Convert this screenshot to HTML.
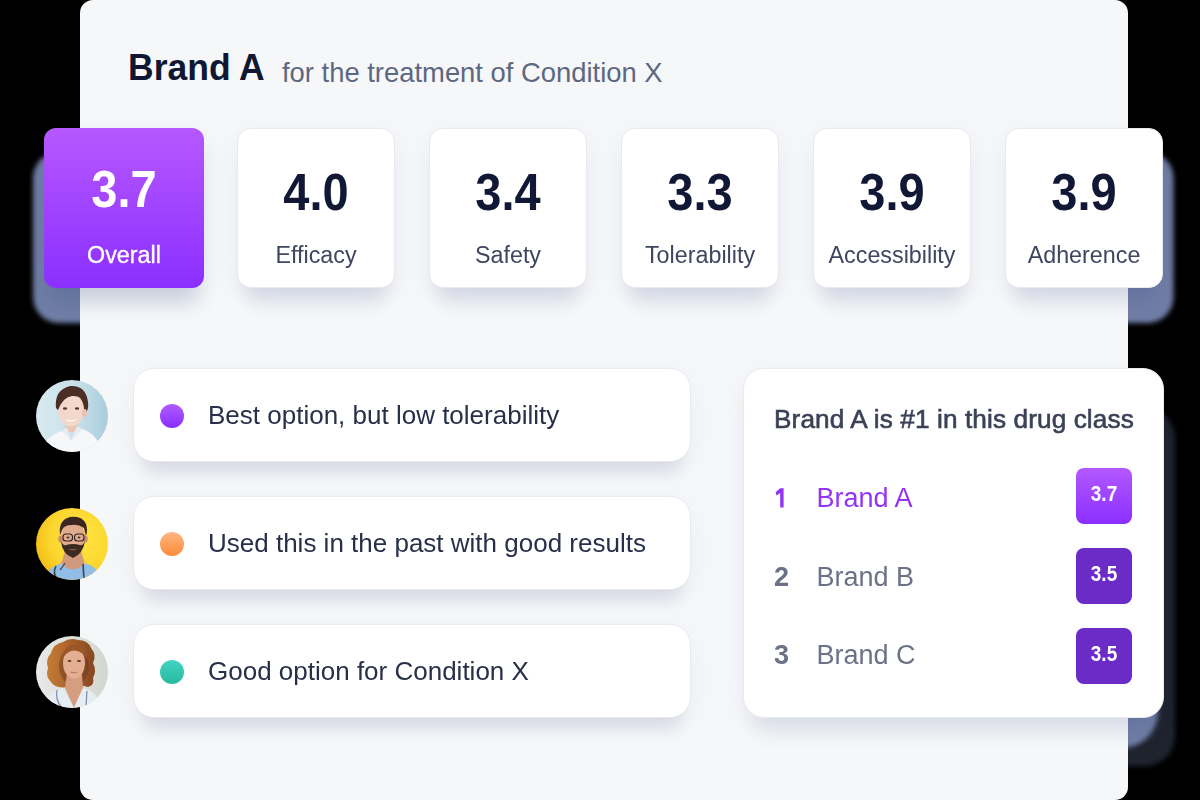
<!DOCTYPE html>
<html><head><meta charset="utf-8">
<style>
*{box-sizing:border-box;margin:0;padding:0}
html,body{width:1200px;height:800px;overflow:hidden;background:#000}
body{position:relative;font-family:"Liberation Sans",sans-serif}
.abs{position:absolute}
#main{position:absolute;left:80px;top:0;width:1048px;height:800px;background:#f6f7f9;border-radius:13px}
.t{position:absolute;white-space:nowrap;line-height:1}
.card{position:absolute;top:128px;width:158px;height:160px;background:#fff;border-radius:14px;border:1px solid #e7e9ef;box-shadow:0 22px 20px -10px rgba(60,80,140,0.16),0 8px 30px rgba(40,50,90,0.05)}
.card .num{position:absolute;left:0;right:0;text-align:center;font-weight:bold;font-size:47px;color:#111835;line-height:47px;top:41.4px;transform:scaleY(1.09);transform-origin:50% 39.8px}
.card .lab{position:absolute;left:0;right:0;text-align:center;font-size:23.3px;color:#3e4660;line-height:23.3px;top:114.8px}
#overall{left:44px;top:128px;width:160px;height:160px;border:none;border-radius:12px;background:linear-gradient(180deg,#b658ff 0%,#8b2fff 100%);box-shadow:0 22px 20px -8px rgba(70,90,140,0.22),0 8px 30px rgba(40,50,90,0.06)}
#overall .num,#overall .lab{color:#fff}
#overall .num{top:39px;transform:scaleY(1.12)}
#overall .lab{top:115.8px;-webkit-text-stroke:0.3px #fff}
.cm{position:absolute;left:132.5px;width:558px;height:94px;background:#fff;border-radius:21px;border:1px solid #e8eaef;box-shadow:0 20px 16px -10px rgba(60,80,140,0.13),0 8px 30px rgba(40,50,90,0.05)}
.cm .dot{position:absolute;left:26px;top:35px;width:24px;height:24px;border-radius:50%}
.cm .tx{position:absolute;left:74.5px;top:33px;font-size:26px;line-height:26px;color:#283049;white-space:nowrap}
.av{position:absolute;left:36px;width:72px;height:72px;border-radius:50%;overflow:hidden}
#rank{position:absolute;left:742.5px;top:368px;width:421.5px;height:350px;background:#fff;border-radius:21px;border:1px solid #e8eaef;box-shadow:0 22px 22px -10px rgba(60,80,140,0.12),0 8px 30px rgba(40,50,90,0.05)}
.rk{position:absolute;left:30.5px;font-weight:bold;font-size:27px;line-height:27px}
.rn{position:absolute;left:73px;font-size:27px;line-height:27px}
.bd{position:absolute;left:332.5px;width:56px;height:56px;border-radius:8px;color:#fff;font-weight:bold;font-size:19px;line-height:53px;text-align:center}
.bd span{display:inline-block;transform:scaleY(1.12);transform-origin:50% 70%}
</style></head><body>
<!-- fake shadows on black outside main card -->
<svg class="abs" style="left:0;top:0" width="1200" height="800">
<defs><filter id="fsb" x="-20%" y="-20%" width="140%" height="140%"><feGaussianBlur stdDeviation="2.6"/></filter></defs>
<g filter="url(#fsb)" fill="rgb(112,126,166)">
<rect x="33" y="152" width="171" height="171" rx="26"/>
<rect x="1005" y="152" width="168.5" height="171" rx="26"/>
<rect x="744" y="408" width="431" height="358" rx="30" opacity="0.28"/>
<rect x="744" y="430" width="414" height="318" rx="36"/>
</g></svg>
<div id="main"></div>

<div class="t" style="left:128px;top:51px;font-size:35.5px;font-weight:bold;color:#0f1733;transform:scaleY(1.05);transform-origin:0 30px">Brand A</div>
<div class="t" style="left:282px;top:59px;font-size:27.4px;color:#5e6781">for the treatment of Condition X</div>

<div class="card" id="overall"><div class="num">3.7</div><div class="lab">Overall</div></div>
<div class="card" style="left:237px"><div class="num">4.0</div><div class="lab">Efficacy</div></div>
<div class="card" style="left:429px"><div class="num">3.4</div><div class="lab">Safety</div></div>
<div class="card" style="left:621px"><div class="num">3.3</div><div class="lab">Tolerability</div></div>
<div class="card" style="left:813px"><div class="num">3.9</div><div class="lab">Accessibility</div></div>
<div class="card" style="left:1005px"><div class="num">3.9</div><div class="lab">Adherence</div></div>

<div class="cm" style="top:368px"><div class="dot" style="background:linear-gradient(180deg,#b05bff,#8a2eff)"></div><div class="tx">Best option, but low tolerability</div></div>
<div class="cm" style="top:496px"><div class="dot" style="background:linear-gradient(180deg,#ffb680,#fb8a3a)"></div><div class="tx">Used this in the past with good results</div></div>
<div class="cm" style="top:624px"><div class="dot" style="background:linear-gradient(180deg,#40d4c2,#29b9a0)"></div><div class="tx">Good option for Condition X</div></div>

<div class="av" style="top:380px"><svg width="72" height="72" viewBox="0 0 72 72">
<defs><linearGradient id="g1" x1="0" x2="1" y1="0" y2="0"><stop offset="0" stop-color="#d9eaf1"/><stop offset="0.6" stop-color="#c6dfe9"/><stop offset="1" stop-color="#a9cddc"/></linearGradient>
<filter id="bl1"><feGaussianBlur stdDeviation="0.6"/></filter></defs>
<rect width="72" height="72" fill="url(#g1)"/>
<g filter="url(#bl1)">
<path d="M20 28 Q18 10 34 6 Q50 5 52 22 Q53 30 49 34 L46 24 Q40 16 30 17 Q23 20 22 30Z" fill="#4b2f26"/>
<rect x="29" y="40" width="13" height="12" fill="#eac5b6"/>
<ellipse cx="35" cy="30" rx="13" ry="16.5" fill="#f4d8cc"/>
<ellipse cx="48.5" cy="33" rx="2.5" ry="4" fill="#e9c2b3"/>
<path d="M21 28 Q21 13 35 11 Q46 11 49 22 Q44 15 36 16 Q27 17 22 30Z" fill="#4b2f26"/>
<path d="M6 72 Q9 56 26 51 L35 60 L46 49 Q61 53 66 72Z" fill="#f6f7f9"/>
<path d="M26 51 L31 47 L35 60Z M46 49 L41 46 L35 60Z" fill="#e8ecf0"/>
<path d="M29 39 Q35 44 41 39 Q35 41.5 29 39Z" fill="#fff"/>
<ellipse cx="29" cy="28.5" rx="2.2" ry="1.2" fill="#5a3b33"/>
<ellipse cx="41" cy="28.5" rx="2.2" ry="1.2" fill="#5a3b33"/>
</g></svg></div>
<div class="av" style="top:508px"><svg width="72" height="72" viewBox="0 0 72 72">
<defs><radialGradient id="g2" cx="0.65" cy="0.4" r="0.7"><stop offset="0" stop-color="#ffe440"/><stop offset="0.65" stop-color="#fbd630"/><stop offset="1" stop-color="#f3bd12"/></radialGradient>
<filter id="bl2"><feGaussianBlur stdDeviation="0.5"/></filter></defs>
<rect width="72" height="72" fill="url(#g2)"/>
<g filter="url(#bl2)">
<path d="M30 40 L44 40 L49 56 L49 66 L25 66 L25 56Z" fill="#d29a7c"/>
<ellipse cx="37" cy="30" rx="12" ry="16.5" fill="#e3ab8e"/>
<ellipse cx="24.5" cy="31" rx="2.2" ry="3.5" fill="#c98d6e"/>
<ellipse cx="49.5" cy="31" rx="2.2" ry="3.5" fill="#c98d6e"/>
<path d="M24 27 Q22 12 34 9 Q46 7 50 16 Q52 22 50 28 L48 20 Q42 16 36 17 Q28 17 26 22Z" fill="#3a2820"/>
<path d="M25 33 Q26 46 37 50 Q47 46 49 33 Q47 38 44 37 Q37 35 30 37 Q27 38 25 33Z" fill="#3a2a22"/>
<path d="M32 41 Q37 43.5 42 41 Q37 42 32 41Z" fill="#c98a74"/>
<rect x="27" y="26" width="9.5" height="7" rx="3" fill="none" stroke="#2e2420" stroke-width="1.1"/>
<rect x="38.5" y="26" width="9.5" height="7" rx="3" fill="none" stroke="#2e2420" stroke-width="1.1"/>
<ellipse cx="32" cy="29.5" rx="1.5" ry="1" fill="#4a3228"/><ellipse cx="43" cy="29.5" rx="1.5" ry="1" fill="#4a3228"/>
<path d="M8 72 Q10 60 25 55.5 Q37 67 49 55.5 Q62 58 66 72Z" fill="#92bde6"/>
<path d="M20 58 Q16 66 22 72" stroke="#3d4450" stroke-width="1.6" fill="none"/>
<path d="M47 56 L48 72" stroke="#3d4450" stroke-width="1.6" fill="none"/>
<path d="M29 55 Q26 60 24 62" stroke="#3d4450" stroke-width="1.2" fill="none"/>
</g></svg></div>
<div class="av" style="top:636px"><svg width="72" height="72" viewBox="0 0 72 72">
<defs><linearGradient id="g3" x1="0" x2="1"><stop offset="0" stop-color="#e8e9e8"/><stop offset="1" stop-color="#d3d7d0"/></linearGradient>
<linearGradient id="h3" x1="0" x2="1"><stop offset="0" stop-color="#c47d36"/><stop offset="0.5" stop-color="#a8602a"/><stop offset="1" stop-color="#844821"/></linearGradient>
<filter id="bl3"><feGaussianBlur stdDeviation="0.55"/></filter></defs>
<rect width="72" height="72" fill="url(#g3)"/>
<g filter="url(#bl3)">
<path d="M15 46 Q9 40 12 32 Q9 24 15 17 Q17 8 27 6 Q34 1 42 4 Q52 4 55 12 Q61 19 57 27 Q61 35 57 42 Q59 49 52 51 L44 49 L32 51 Q19 53 15 46Z" fill="url(#h3)"/>
<ellipse cx="38" cy="30" rx="15" ry="19" fill="#6a361a" opacity="0.45"/>
<path d="M31 37 L46 37 L47 52 L38 72 L29 52Z" fill="#d69e80"/>
<ellipse cx="38" cy="27" rx="11" ry="15.5" fill="#e3ae92"/>
<path d="M26 24 Q27 10 38 9 Q50 10 51 23 Q47 15 38 14.5 Q30 15 26 24Z" fill="#9a5628"/>
<ellipse cx="33.5" cy="25" rx="2" ry="0.9" fill="#5a3a30"/>
<ellipse cx="43" cy="25" rx="2" ry="0.9" fill="#5a3a30"/>
<path d="M34.5 36 Q38 37.5 41.5 36" stroke="#b87466" stroke-width="1.2" fill="none"/>
<path d="M8 72 Q10 58 27 52 L38 72 L47 52 Q62 56 66 72Z" fill="#e6ecf3"/>
<path d="M21 54 Q19 64 26 72" stroke="#7e8aa3" stroke-width="1.2" fill="none"/>
<path d="M51 55 L50 70" stroke="#7e8aa3" stroke-width="1.2" fill="none"/>
</g></svg></div>

<div id="rank">
  <div class="t" style="left:30.5px;top:36.5px;font-size:26.2px;letter-spacing:0.1px;color:#3b4257;-webkit-text-stroke:0.6px #3b4257">Brand A is #1 in this drug class</div>
  <svg style="position:absolute;left:31px;top:119.3px" width="10" height="20" viewBox="0 0 10 20"><path d="M0.6 4.2 L5.2 0.2 L8.6 0.2 L8.6 19.5 L5.2 19.5 L5.2 5.0 L1.6 7.4Z" fill="#9334f5"/></svg><div class="rn" style="top:116px;color:#9334f5">Brand A</div>
  <div class="bd" style="top:99px;background:linear-gradient(180deg,#b358ff,#8b2fff)"><span>3.7</span></div>
  <div class="rk" style="top:195px;color:#6b7186">2</div><div class="rn" style="top:195px;color:#6b7186">Brand B</div>
  <div class="bd" style="top:179px;background:#6a2bc6"><span>3.5</span></div>
  <div class="rk" style="top:273px;color:#6b7186">3</div><div class="rn" style="top:273px;color:#6b7186">Brand C</div>
  <div class="bd" style="top:259px;background:#6a2bc6"><span>3.5</span></div>
</div>
</body></html>
